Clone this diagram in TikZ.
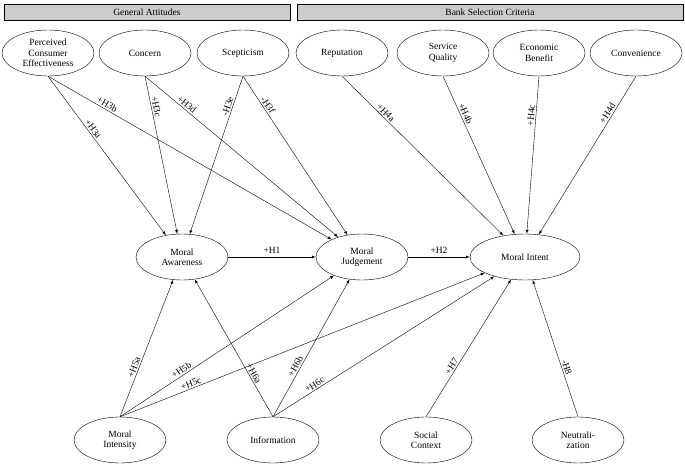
\documentclass[tikz,border=0pt]{standalone}
\usepackage{fontspec}
\setmainfont{Liberation Serif}
\usetikzlibrary{arrows,shapes.geometric,positioning}
\begin{document}
\begin{tikzpicture}[
    x=1pt,y=-1pt,>=latex,
    font=\fontsize{9.5}{10.5}\selectfont,
    construct/.style={ellipse,draw,minimum width=92pt,minimum height=46pt,
        inner sep=0pt,align=center},
    header/.style={rectangle,draw,fill=black!20,minimum height=16pt,inner sep=0pt},
    path/.style={->,thin},
    hyp/.style={sloped,above,inner sep=1.5pt,pos=#1},
    hyp/.default=0.35
  ]
    \useasboundingbox (0,0) rectangle (685,468);

    \node[header,minimum width=286pt] (attitudes) at (147,12) {General Attitudes};
    \node[header,minimum width=386pt] (criteria) at (490,12) {Bank Selection Criteria};

    % top row
    \node[construct] (pce) at (48,53) {Perceived\\Consumer\\Effectiveness};
    \node[construct] (concern) at (145,53) {Concern};
    \node[construct] (scept) at (243,53) {Scepticism};
    \node[construct] (reput) at (342,53) {Reputation};
    \node[construct] (servq) at (443,53) {Service\\Quality};
    \node[construct] (econ) at (539,53) {Economic\\Benefit};
    \node[construct] (conv) at (636,53) {Convenience};

    % middle row
    \node[construct] (aware) at (182,257) {Moral\\Awareness};
    \node[construct] (judge) at (362,257) {Moral\\Judgement};
    \node[construct,minimum width=110pt] (intent) at (525,257) {Moral Intent};

    % bottom row
    \node[construct] (intens) at (120,440) {Moral\\Intensity};
    \node[construct] (info) at (273,440) {Information};
    \node[construct] (social) at (426,440) {Social\\Context};
    \node[construct] (neutr) at (578,440) {Neutrali-\\zation};

    \draw[path] (pce.south) -- node[hyp] {+H3a} (aware);
    \draw[path] (pce.south) -- node[hyp=0.2] {+H3b} (judge);
    \draw[path] (concern.south) -- node[hyp=0.2] {+H3c} (aware);
    \draw[path] (concern.south) -- node[hyp=0.2] {+H3d} (judge);
    \draw[path] (scept.south) -- node[hyp=0.2] {-H3e} (aware);
    \draw[path] (scept.south) -- node[hyp=0.2] {-H3f} (judge);

    \draw[path] (reput.south) -- node[hyp=0.25] {+H4a} (intent);
    \draw[path] (servq.south) -- node[hyp=0.25] {+H4b} (intent);
    \draw[path] (econ.south) -- node[hyp=0.25] {+H4c} (intent);
    \draw[path] (conv.south) -- node[hyp=0.25] {+H4d} (intent);

    \draw[path] (aware) -- node[above] {+H1} (judge);
    \draw[path] (judge) -- node[above] {+H2} (intent);

    \draw[path] (intens.north) -- node[hyp] {+H5a} (aware);
    \draw[path] (intens.north) -- node[hyp=0.3] {+H5b} (judge);
    \draw[path] (intens.north) -- node[hyp=0.2] {+H5c} (intent);
    \draw[path] (info.north) -- node[hyp=0.3] {+H6a} (aware);
    \draw[path] (info.north) -- node[hyp] {+H6b} (judge);
    \draw[path] (info.north) -- node[hyp=0.2] {+H6c} (intent);

    \draw[path] (social.north) -- node[hyp] {+H7} (intent);
    \draw[path] (neutr.north) -- node[hyp] {-H8} (intent);
\end{tikzpicture}
\end{document}
